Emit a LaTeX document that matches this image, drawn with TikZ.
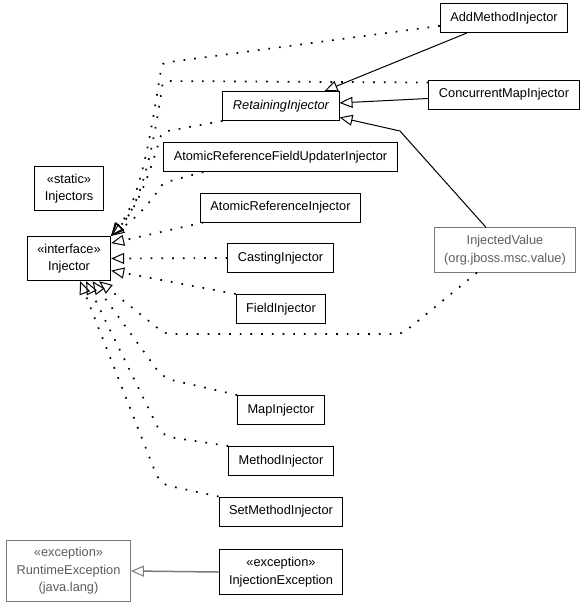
\documentclass[tikz,border=0pt]{standalone}
\usepackage{fontspec}
\setmainfont{Liberation Sans}
\usepackage{tikz}
\usetikzlibrary{arrows.meta,positioning}

\definecolor{extline}{HTML}{7A7A7A}
\definecolor{exttext}{HTML}{5C5C5C}

\tikzset{
  cls/.style={draw, line width=1pt, inner xsep=10pt, inner ysep=7.5pt,
    minimum height=29pt, align=center, font=\fontsize{12.8}{17.5}\selectfont},
  ext/.style={cls, draw=extline, text=exttext},
  hollow/.style={-{Triangle[open,length=13pt,width=11pt,line width=1pt]}},
  inh/.style={line width=1pt, hollow},
  real/.style={line width=1.7pt, dash pattern=on 1.7pt off 9pt, hollow},
}

\begin{document}
\begin{tikzpicture}[x=1pt,y=-1pt]
\useasboundingbox (0,0) rectangle (587,608);
% nodes
\node[cls] (addm) at (504,18) {AddMethodInjector};%
\node[cls] (conc) at (504,94.5) {ConcurrentMapInjector};%
\node[cls, font=\fontsize{12.8}{17.5}\selectfont\itshape] (ret) at (281,106) {RetainingInjector};%
\node[cls] (arfu) at (280.5,157) {AtomicReferenceFieldUpdaterInjector};%
\node[cls] (injs) at (69,188.5) {«static»\\Injectors};%
\node[cls] (ari) at (280.5,207.5) {AtomicReferenceInjector};%
\node[cls] (inj) at (69,258.5) {«interface»\\Injector};%
\node[cls] (cast) at (280.5,258) {CastingInjector};%
\node[ext] (iv) at (505,250) {InjectedValue\\(org.jboss.msc.value)};%
\node[cls] (fi) at (281,309) {FieldInjector};%
\node[cls] (mapi) at (281,410) {MapInjector};%
\node[cls] (meth) at (281,461) {MethodInjector};%
\node[cls] (setm) at (281,511.5) {SetMethodInjector};%
\node[ext] (rt) at (68.5,571) {«exception»\\RuntimeException\\(java.lang)};%
\node[cls] (ie) at (281,572) {«exception»\\InjectionException};%
% edges
\draw[inh] (addm.202) -- (ret.19);
\draw[inh] (conc.183) -- (ret.3);
\draw[inh] (iv.130) -- (400,131) -- (ret.-11);
\draw[real, rounded corners=4pt] (addm.187) -- (162,63) .. controls (150,140) and (140,200) .. (inj.north east);
\draw[real, rounded corners=4pt] (conc.171) -- (163,81) .. controls (153,150) and (141,205) .. (inj.north east);
\draw[real, rounded corners=4pt] (ret.south west) -- (162,132) .. controls (152,165) and (140,205) .. (inj.north east);
\draw[real, rounded corners=4pt] (arfu.191) -- (163,183) .. controls (152,200) and (140,215) .. (inj.north east);
\draw[real] (ari.191) -- (inj.20);
\draw[real] (cast.west) -- (inj.east);
\draw[real] (fi.north west) -- (inj.-16);
\draw[real, rounded corners=6pt] (iv.219) -- (402,334) -- (165,334) -- (inj.-37);
\draw[real, rounded corners=10pt] (mapi.north west) -- (163,378) -- (inj.-44);
\draw[real, rounded corners=10pt] (meth.north west) -- (162,436) -- (inj.-53);
\draw[real, rounded corners=10pt] (setm.north west) -- (160,484) -- (inj.-64);
\draw[inh, line width=1.5pt, draw=extline] (ie.west) -- (rt.east);
\end{tikzpicture}
\end{document}
